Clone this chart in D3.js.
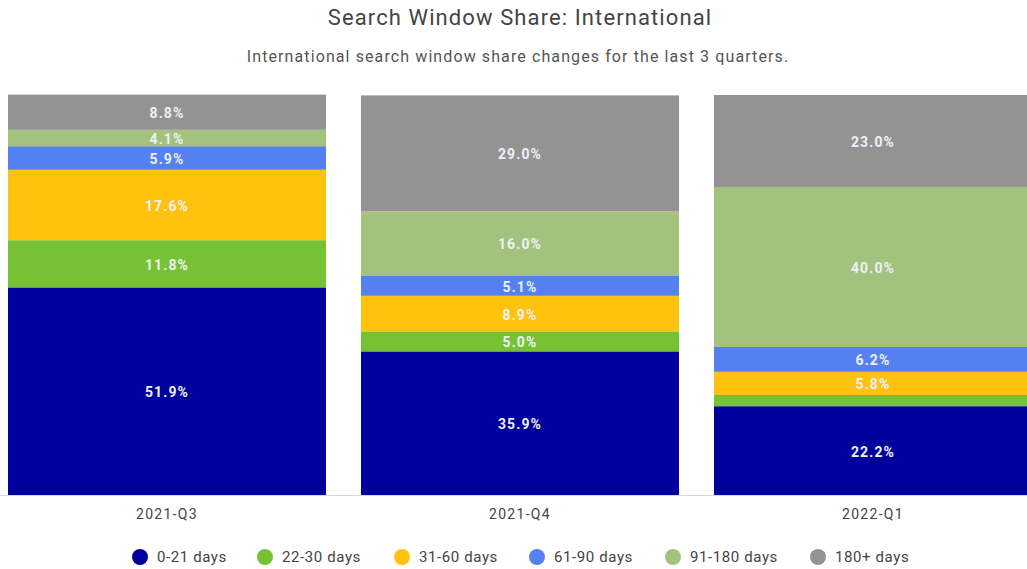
<!DOCTYPE html>
<html>
<head>
<meta charset="utf-8">
<script src="https://cdn.jsdelivr.net/npm/d3@7"></script>
<style>
  body { margin: 0; background: #fff; }
  svg { font-family: Roboto, "Liberation Sans", sans-serif; }
</style>
</head>
<body>
<svg id="chart" width="1027" height="569"></svg>
<script>
var quarters = ['2021-Q3', '2021-Q4', '2022-Q1']
var windows = ['0-21 days', '22-30 days', '31-60 days', '61-90 days', '91-180 days', '180+ days']
var colors = ['#00009c', '#77c232', '#ffc20e', '#5580f0', '#a2c27e', '#939393']

// share per window, one array per quarter (percent)
var q3Values = [51.9, 11.8, 17.6, 5.9, 4.1, 8.8]
var q4Values = [35.9, 5.0, 8.9, 5.1, 16.0, 29.0]
var q1Values = [22.2, 2.8, 5.8, 6.2, 40.0, 23.0]

var width = 1027
var height = 569
var margin = { top: 95, right: -5, bottom: 74, left: 8 }
var svg = d3.select('#chart')

// build table for d3.stack
var table = quarters.map(function (q, i) {
    var vals = [q3Values, q4Values, q1Values][i]
    var row = { quarter: q }
    windows.forEach(function (w, j) { row[w] = vals[j] })
    return row
})

var series = d3.stack().keys(windows)(table)

var xScale = d3.scaleBand()
    .domain(quarters)
    .range([margin.left, width - margin.right])
    .paddingInner(35 / 353)
    .paddingOuter(0)

var yScale = d3.scaleLinear()
    .domain([0, 100])
    .range([height - margin.bottom, margin.top])

var zScale = d3.scaleOrdinal().domain(windows).range(colors)

// title
svg.append('text')
    .attr('x', 520).attr('y', 25)
    .attr('text-anchor', 'middle')
    .attr('font-size', 22)
    .attr('letter-spacing', 1.1)
    .attr('fill', '#444')
    .text('Search Window Share: International')
svg.append('text')
    .attr('x', 518).attr('y', 62)
    .attr('text-anchor', 'middle')
    .attr('font-size', 16)
    .attr('letter-spacing', 1.1)
    .attr('fill', '#555')
    .text('International search window share changes for the last 3 quarters.')

// baseline
svg.append('line')
    .attr('x1', 0).attr('x2', width)
    .attr('y1', yScale(0) + 0.5).attr('y2', yScale(0) + 0.5)
    .attr('stroke', '#d4d7e8')

var groups = svg.append('g')
    .selectAll('g')
    .data(series)
    .enter().append('g')
    .attr('fill', function (d) { return zScale(d.key) })

groups.selectAll('rect')
    .data(function (d) { return d })
    .enter().append('rect')
    .attr('x', function (d) { return xScale(d.data.quarter) })
    .attr('width', xScale.bandwidth())
    .attr('y', function (d) { return yScale(d[1]) })
    .attr('height', function (d) { return yScale(d[0]) - yScale(d[1]) })

groups.selectAll('text')
    .data(function (d) { return d.filter(function (p) { return p[1] - p[0] >= 3 }) })
    .enter().append('text')
    .attr('x', function (d) { return xScale(d.data.quarter) + xScale.bandwidth() / 2 })
    .attr('y', function (d) { return (yScale(d[0]) + yScale(d[1])) / 2 + 1 })
    .attr('dy', '0.35em')
    .attr('text-anchor', 'middle')
    .attr('font-size', 14)
    .attr('letter-spacing', 1.1)
    .attr('font-weight', 'bold')
    .attr('fill', '#eef0f8')
    .text(function (d) { return (d[1] - d[0]).toFixed(1) + '%' })

// x axis
var xAxis = svg.append('g')
    .attr('transform', 'translate(0,' + (height - margin.bottom) + ')')
    .call(d3.axisBottom(xScale).tickSize(0).tickPadding(14))
xAxis.select('.domain').remove()
xAxis.selectAll('text').attr('font-size', 14).attr('fill', '#444')
    .attr('letter-spacing', 1.3)
    .attr('font-family', 'Roboto, sans-serif')

// legend
var legendX = [140, 265, 402, 537, 673, 818]
var legend = svg.append('g')
    .selectAll('g')
    .data(windows)
    .enter().append('g')
    .attr('transform', function (d, i) { return 'translate(' + legendX[i] + ',557)' })
legend.append('circle')
    .attr('r', 8)
    .attr('fill', function (d) { return zScale(d) })
legend.append('text')
    .attr('x', 17).attr('dy', '0.35em')
    .attr('font-size', 15)
    .attr('letter-spacing', 0.6)
    .attr('fill', '#444')
    .text(function (d) { return d })
</script>
</body>
</html>
